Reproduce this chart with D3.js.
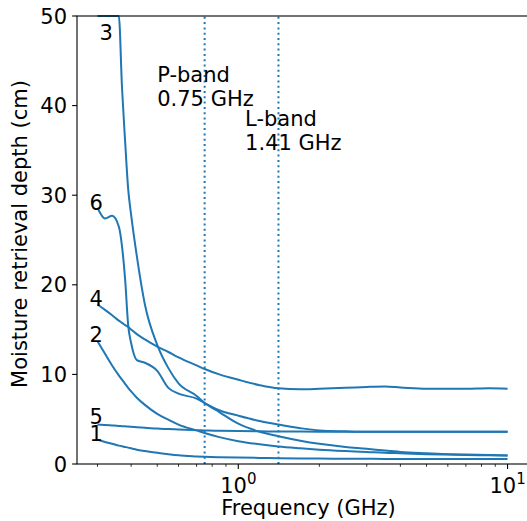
<!DOCTYPE html>
<meta charset="utf-8">
<style>
  body { margin: 0; background: #fff; }
  text { font-family: "DejaVu Sans", sans-serif; fill: #000; }
  .line { fill: none; stroke: #1f77b4; stroke-width: 2px; }
  .band { fill: none; stroke: #1f77b4; stroke-width: 2px; stroke-dasharray: 2, 3.3; }
  .spine { fill: none; stroke: #000; stroke-width: 1.1px; }
</style>

<body>
  <script src="https://cdn.jsdelivr.net/npm/d3@7"></script>
  <script>

    // frequency grid (GHz) shared by all curves
    var freq = [0.3, 0.32, 0.34, 0.36, 0.37, 0.38, 0.39, 0.4, 0.42, 0.45, 0.5, 0.55, 0.6, 0.7, 0.75, 0.85,
      1, 1.2, 1.41, 1.7, 2, 2.5, 3, 3.5, 4, 5, 6, 7, 8.5, 10];

    // moisture retrieval depth (cm) for each soil case
    var depth1 = [2.7, 2.45, 2.25, 2.05, 1.97, 1.9, 1.83, 1.75, 1.6, 1.45, 1.25, 1.1, 0.98, 0.85, 0.8, 0.75,
      0.72, 0.68, 0.65, 0.62, 0.6, 0.59, 0.58, 0.57, 0.57, 0.56, 0.56, 0.55, 0.55, 0.55];
    var depth2 = [13.7, 12.3, 11.0, 9.9, 9.42, 8.95, 8.5, 8.1, 7.4, 6.6, 5.6, 4.95, 4.4, 3.75, 3.46, 3.0,
      2.55, 2.2, 1.95, 1.75, 1.6, 1.45, 1.35, 1.25, 1.2, 1.1, 1.05, 1.0, 0.97, 0.95];
    var depth3 = [50, 50, 50, 50, 42.0, 36.0, 30.7, 27.8, 23.2, 17.8, 13.3, 10.7, 9.0, 7.6, 6.8, 5.8,
      4.5, 3.6, 3.1, 2.6, 2.25, 1.9, 1.7, 1.5, 1.35, 1.2, 1.1, 1.05, 1.0, 0.95];
    var depth4 = [17.8, 17.2, 16.6, 16.0, 15.75, 15.5, 15.3, 15.0, 14.5, 13.9, 13.1, 12.5, 11.9, 11.0, 10.6, 10.0,
      9.4, 8.8, 8.45, 8.35, 8.4, 8.5, 8.6, 8.65, 8.55, 8.4, 8.4, 8.4, 8.45, 8.4];
    var depth5 = [4.4, 4.35, 4.3, 4.25, 4.22, 4.2, 4.18, 4.15, 4.1, 4.05, 3.95, 3.9, 3.85, 3.78, 3.75, 3.7,
      3.68, 3.65, 3.63, 3.62, 3.6, 3.6, 3.6, 3.6, 3.6, 3.6, 3.6, 3.6, 3.6, 3.6];
    var depth6 = [28.6, 27.4, 27.7, 26.5, 24.3, 20.6, 15.5, 13.5, 11.6, 11.3, 10.4, 8.5, 7.85, 7.3, 6.8, 6.0,
      5.4, 4.8, 4.4, 4.0, 3.75, 3.65, 3.6, 3.6, 3.6, 3.6, 3.6, 3.6, 3.6, 3.6];

    var curveNames = ["1", "2", "3", "4", "5", "6"];
    var curveValues = [depth1, depth2, depth3, depth4, depth5, depth6];
    // where each number label sits (GHz, cm)
    var labelFreq = [0.28, 0.28, 0.305, 0.28, 0.28, 0.28];
    var labelDepth = [2.6, 13.6, 47.3, 17.6, 4.5, 28.4];

    // radar bands
    var bandFreq = [0.75, 1.41];
    var bandText = [["P-band", "0.75 GHz"], ["L-band", "1.41 GHz"]];
    var bandTextPos = [[0.5, 40], [1.06, 35]];

    var yTicks = [0, 10, 20, 30, 40, 50];
    var xMajor = [1, 10];
    var xMinor = [0.3, 0.4, 0.5, 0.6, 0.7, 0.8, 0.9, 2, 3, 4, 5, 6, 7, 8, 9];

    var margin = { top: 16, right: 0, bottom: 57, left: 77 },
      width = 451,
      height = 448;
    var fs = "21px";

    var x = d3.scaleLog().domain([0.2518, 11.91]).range([0, width]);
    var y = d3.scaleLinear().domain([0, 50]).range([height, 0]);

    var svg = d3.select("body").append("svg")
      .attr("width", 527)
      .attr("height", 521)
      .append("g")
      .attr("transform", "translate(" + margin.left + "," + margin.top + ")");

    // band markers
    svg.selectAll(".band")
      .data(bandFreq)
      .enter()
      .append("line")
      .attr("class", "band")
      .attr("x1", function (d) { return x(d); })
      .attr("x2", function (d) { return x(d); })
      .attr("y1", y(0))
      .attr("y2", y(50));

    var valueline = d3.line()
      .x(function (d, i) { return x(freq[i]); })
      .y(function (d) { return y(d); })
      .curve(d3.curveMonotoneX);

    svg.selectAll(".line")
      .data(curveValues)
      .enter()
      .append("path")
      .attr("class", "line")
      .attr("d", valueline);

    // spines
    svg.append("rect")
      .attr("class", "spine")
      .attr("x", 0).attr("y", 0)
      .attr("width", width).attr("height", height);

    // x axis (log, with minor ticks)
    var xAxis = svg.append("g").attr("transform", "translate(0," + height + ")");
    xAxis.selectAll(".minor")
      .data(xMinor)
      .enter()
      .append("line")
      .attr("x1", function (d) { return x(d); })
      .attr("x2", function (d) { return x(d); })
      .attr("y1", 0).attr("y2", 2.8)
      .attr("stroke", "#000").attr("stroke-width", 0.8);
    xAxis.selectAll(".major")
      .data(xMajor)
      .enter()
      .append("line")
      .attr("x1", function (d) { return x(d); })
      .attr("x2", function (d) { return x(d); })
      .attr("y1", 0).attr("y2", 4.9)
      .attr("stroke", "#000").attr("stroke-width", 1.1);
    var xLab = xAxis.selectAll(".xlab")
      .data(xMajor)
      .enter()
      .append("text")
      .attr("x", function (d) { return x(d); })
      .attr("y", 29)
      .attr("text-anchor", "middle")
      .style("font-size", fs);
    xLab.append("tspan").text("10");
    xLab.append("tspan")
      .attr("dy", -9)
      .style("font-size", "15px")
      .text(function (d) { return Math.round(Math.log10(d)); });

    // y axis
    var yAxis = svg.append("g");
    yAxis.selectAll("line")
      .data(yTicks)
      .enter()
      .append("line")
      .attr("x1", -4.9).attr("x2", 0)
      .attr("y1", function (d) { return y(d); })
      .attr("y2", function (d) { return y(d); })
      .attr("stroke", "#000").attr("stroke-width", 1.1);
    yAxis.selectAll("text")
      .data(yTicks)
      .enter()
      .append("text")
      .attr("x", -10)
      .attr("y", function (d) { return y(d); })
      .attr("dy", "0.36em")
      .attr("text-anchor", "end")
      .style("font-size", fs)
      .text(function (d) { return d; });

    // axis titles
    svg.append("text")
      .attr("text-anchor", "middle")
      .attr("x", width / 2 + 6)
      .attr("y", height + 51)
      .style("font-size", fs)
      .text("Frequency (GHz)");

    svg.append("text")
      .attr("text-anchor", "middle")
      .attr("transform", "rotate(-90)")
      .attr("x", -height / 2 + 6)
      .attr("y", -50)
      .style("font-size", fs)
      .text("Moisture retrieval depth (cm)");

    // curve numbers
    svg.selectAll(".num")
      .data(curveNames)
      .enter()
      .append("text")
      .attr("x", function (d, i) { return x(labelFreq[i]); })
      .attr("y", function (d, i) { return y(labelDepth[i]); })
      .style("font-size", fs)
      .text(function (d) { return d; });

    // band annotations
    bandText.forEach(function (lines, i) {
      var t = svg.append("text")
        .attr("x", x(bandTextPos[i][0]))
        .attr("y", y(bandTextPos[i][1]))
        .style("font-size", fs);
      t.append("tspan").attr("x", x(bandTextPos[i][0])).attr("dy", -24).text(lines[0]);
      t.append("tspan").attr("x", x(bandTextPos[i][0])).attr("dy", 24).text(lines[1]);
    });

  </script>
</body>
